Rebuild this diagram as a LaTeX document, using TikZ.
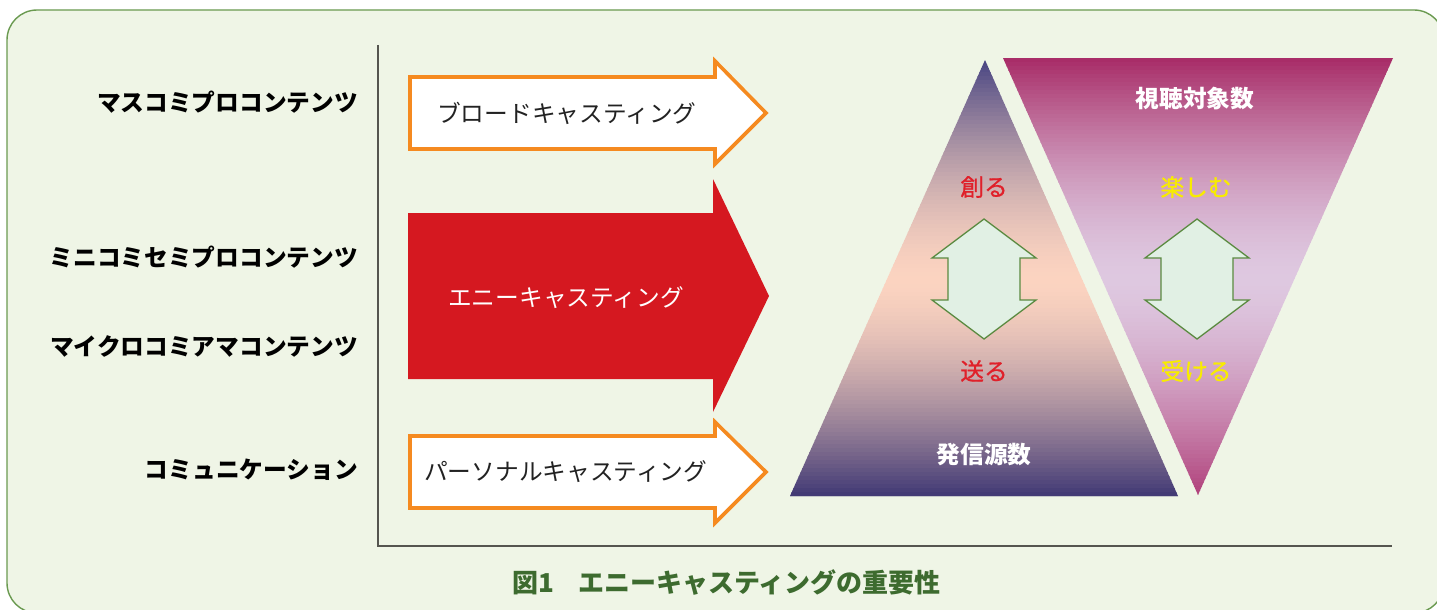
\documentclass[tikz,border=0pt]{standalone}
\usepackage{fontspec}
\setmainfont{Noto Sans CJK JP}
\newfontfamily\jpmedium[FakeBold=0.8]{Noto Sans CJK JP}
\definecolor{bgc}{HTML}{EFF5E6}
\definecolor{framec}{HTML}{6A9A50}
\definecolor{axisc}{HTML}{55554F}
\definecolor{orangec}{HTML}{F58A20}
\definecolor{redc}{HTML}{D51820}
\definecolor{ltop}{HTML}{4B4783}
\definecolor{lmid}{HTML}{FBD3C0}
\definecolor{lbot}{HTML}{3D3673}
\definecolor{rtop}{HTML}{A82D68}
\definecolor{rmid}{HTML}{DEC8E0}
\definecolor{rbot}{HTML}{B0407A}
\definecolor{dafill}{HTML}{E1F0E4}
\definecolor{daline}{HTML}{5A8A40}
\definecolor{crtc}{HTML}{E0202A}
\definecolor{yelc}{HTML}{F8EC00}
\definecolor{capc}{HTML}{3D6B2F}
\definecolor{txtc}{HTML}{222222}
\begin{document}
\begin{tikzpicture}[x=1pt,y=-1pt,
  lbl/.style={font=\fontsize{23.7}{28}\selectfont\bfseries, text=black, inner sep=0pt, anchor=east},
  arrtxt/.style={font=\fontsize{23.7}{28}\selectfont, inner sep=0pt, anchor=west},
  tritxt/.style={font=\jpmedium\fontsize{23.7}{28}\selectfont, inner sep=0pt},
  tribold/.style={font=\fontsize{23.7}{28}\selectfont\bfseries, inner sep=0pt, text=white},
  whitearrow/.style={draw=orangec, line width=3.6pt, fill=white, line join=miter},
  dblarrow/.style={draw=daline, line width=1.3pt, fill=dafill, line join=miter},
  axisline/.style={draw=axisc, line width=1.8pt}]
\useasboundingbox (0,0) rectangle (1437,610);
\fill[white] (0,0) rectangle (1437,610);
\draw[draw=framec, line width=1.4pt, fill=bgc, rounded corners=30pt] (7,10) rectangle (1444,613);

% axes
\coordinate (ytop) at (378,45);
\coordinate (orig) at (378,546);
\coordinate (xend) at (1392,546);
\draw[axisline] (ytop) -- (orig) -- (xend);

% left labels
\node[lbl] (l1) at (358,102) {マスコミプロコンテンツ};
\node[lbl] (l2) at (358,257) {ミニコミセミプロコンテンツ};
\node[lbl] (l3) at (358,346) {マイクロコミアマコンテンツ};
\node[lbl] (l4) at (358,470) {コミュニケーション};

% arrows
\draw[whitearrow] (410,77) -- (715,77) -- (715,61) -- (766,113) -- (715,164) -- (715,149) -- (410,149) -- cycle;
\node[arrtxt, text=txtc] (a1) at (437,113) {ブロードキャスティング};

\fill[redc] (408,213) -- (713,213) -- (713,179) -- (769,296) -- (713,412) -- (713,379) -- (408,379) -- cycle;
\node[arrtxt, text=white] (a2) at (448,298) {エニーキャスティング};

\draw[whitearrow] (410,436) -- (715,436) -- (715,422) -- (766,472) -- (715,523) -- (715,508) -- (410,508) -- cycle;
\node[arrtxt, text=txtc] (a3) at (424,472) {パーソナルキャスティング};

% left triangle with vertical gradient (strips)
\begin{scope}
  \clip (985,60) -- (1178,496) -- (790,496) -- cycle;
  \foreach \i in {0,...,109}{
    \pgfmathsetmacro{\yy}{60+4*\i}
    \pgfmathsetmacro{\tt}{\i/109}
    \pgfmathsetmacro{\pa}{100*(1-pow(abs(2*\tt-1),1.6))}
    \ifdim\tt pt<0.5pt
      \fill[lmid!\pa!ltop] (780,\yy) rectangle (1190,\yy+4.6);
    \else
      \fill[lmid!\pa!lbot] (780,\yy) rectangle (1190,\yy+4.6);
    \fi
  }
\end{scope}
% right triangle with vertical gradient (strips)
\begin{scope}
  \clip (1003,58) -- (1393,58) -- (1198,495) -- cycle;
  \foreach \i in {0,...,109}{
    \pgfmathsetmacro{\yy}{58+4*\i}
    \pgfmathsetmacro{\tt}{\i/109}
    \pgfmathsetmacro{\pa}{100*(1-pow(abs(2*\tt-1),1.6))}
    \ifdim\tt pt<0.5pt
      \fill[rmid!\pa!rtop] (995,\yy) rectangle (1400,\yy+4.6);
    \else
      \fill[rmid!\pa!rbot] (995,\yy) rectangle (1400,\yy+4.6);
    \fi
  }
\end{scope}

% double arrows
\foreach \cx/\nm in {984/da1, 1197/da2}{
  \draw[dblarrow] (\cx,219) -- (\cx+52,258) -- (\cx+36,258) -- (\cx+36,300) -- (\cx+52,300) -- (\cx,339)
     -- (\cx-52,300) -- (\cx-36,300) -- (\cx-36,258) -- (\cx-52,258) -- cycle;
}

% triangle texts
\node[tritxt, text=crtc] (t1) at (984,187) {創る};
\node[tritxt, text=crtc] (t2) at (984,371) {送る};
\node[tribold] (t3) at (984,455) {発信源数};
\node[tribold] (t4) at (1195,99) {視聴対象数};
\node[tritxt, text=yelc] (t5) at (1196,187) {楽しむ};
\node[tritxt, text=yelc] (t6) at (1196,371) {受ける};

% caption
\node[inner sep=0pt, anchor=west, text=capc, font=\fontsize{26}{30}\selectfont\bfseries] (cap) at (512,583) {図1\hspace{24pt}エニーキャスティングの重要性};
\end{tikzpicture}
\end{document}
